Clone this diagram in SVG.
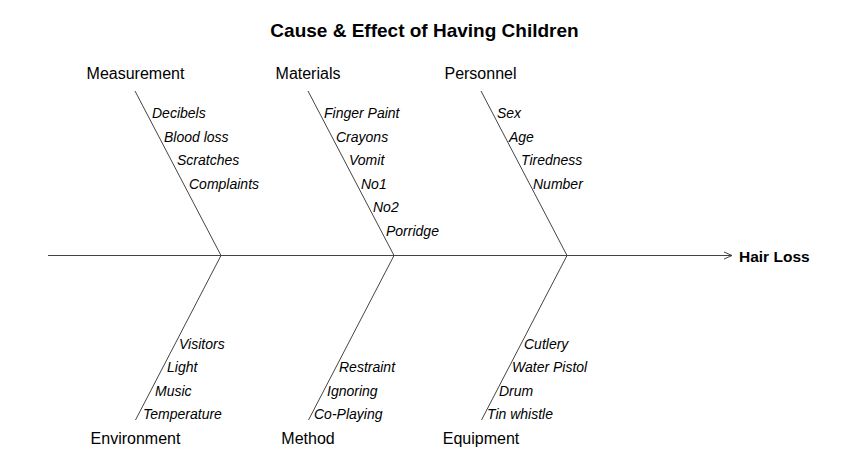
<svg xmlns="http://www.w3.org/2000/svg" width="850" height="473" viewBox="0 0 850 473">
<style>
text{font-family:"Liberation Sans",Arial,sans-serif;fill:#000}
.title{font-size:19px;font-weight:bold;text-anchor:middle}
.effect{font-size:15.5px;font-weight:bold}
.cat{font-size:16px;text-anchor:middle}
.item{font-size:14px;font-style:italic}
.ln{stroke:#444;stroke-width:1;fill:none}
</style>
<rect width="850" height="473" fill="#fff"/>
<text class="title" x="424.5" y="36.5">Cause &amp; Effect of Having Children</text>
<g id="connectors">
<line class="ln" x1="48" y1="255.5" x2="732" y2="255.5"/>
<polyline class="ln" points="724,252 732,255.5 724,259"/>
<line class="ln" x1="135" y1="91" x2="221" y2="255.5"/>
<line class="ln" x1="308" y1="91" x2="394" y2="255.5"/>
<line class="ln" x1="481" y1="91" x2="567" y2="255.5"/>
<line class="ln" x1="221" y1="255.5" x2="135.5" y2="420"/>
<line class="ln" x1="394" y1="255.5" x2="308.5" y2="420"/>
<line class="ln" x1="567" y1="255.5" x2="481.5" y2="420"/>
</g>
<g id="effect"><text class="effect" x="739" y="261.5">Hair Loss</text></g>
<g id="measurement">
<text class="cat" x="135.5" y="78.5">Measurement</text>
<text class="item" x="152" y="118">Decibels</text>
<text class="item" x="164" y="141.5">Blood loss</text>
<text class="item" x="177" y="165">Scratches</text>
<text class="item" x="189" y="188.5">Complaints</text>
</g>
<g id="materials">
<text class="cat" x="308" y="78.5">Materials</text>
<text class="item" x="324" y="118">Finger Paint</text>
<text class="item" x="336" y="141.5">Crayons</text>
<text class="item" x="349" y="165">Vomit</text>
<text class="item" x="361" y="188.5">No1</text>
<text class="item" x="373" y="212">No2</text>
<text class="item" x="386" y="235.5">Porridge</text>
</g>
<g id="personnel">
<text class="cat" x="480.5" y="78.5">Personnel</text>
<text class="item" x="497" y="118">Sex</text>
<text class="item" x="509" y="141.5">Age</text>
<text class="item" x="521" y="165">Tiredness</text>
<text class="item" x="533" y="188.5">Number</text>
</g>
<g id="environment">
<text class="cat" x="135.5" y="443.5">Environment</text>
<text class="item" x="179" y="349">Visitors</text>
<text class="item" x="167" y="372">Light</text>
<text class="item" x="155" y="395.5">Music</text>
<text class="item" x="143" y="418.5">Temperature</text>
</g>
<g id="method">
<text class="cat" x="308" y="443.5">Method</text>
<text class="item" x="339" y="372">Restraint</text>
<text class="item" x="327" y="395.5">Ignoring</text>
<text class="item" x="314" y="418.5">Co-Playing</text>
</g>
<g id="equipment">
<text class="cat" x="481" y="443.5">Equipment</text>
<text class="item" x="524" y="349">Cutlery</text>
<text class="item" x="512" y="372">Water Pistol</text>
<text class="item" x="499" y="395.5">Drum</text>
<text class="item" x="487" y="418.5">Tin whistle</text>
</g>
</svg>
